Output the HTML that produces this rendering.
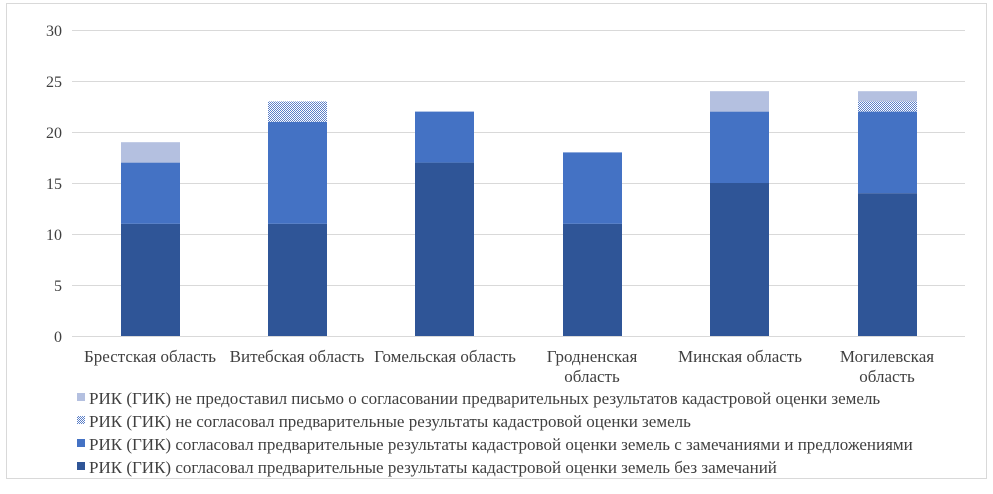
<!DOCTYPE html>
<html><head><meta charset="utf-8"><style>
body{margin:0;background:#fff;}
svg text{font-family:"Liberation Serif",serif;fill:#404040;}
</style></head><body>
<svg width="993" height="489" xmlns="http://www.w3.org/2000/svg">
<defs>
<pattern id="h" width="2" height="2" patternUnits="userSpaceOnUse">
<rect width="2" height="2" fill="#fff"/>
<rect x="0" y="0" width="1" height="1" fill="#5b7fc8"/>
<rect x="1" y="1" width="1" height="1" fill="#5b7fc8"/>
</pattern>
</defs>
<rect x="6.5" y="3.5" width="980" height="475" fill="#fff" stroke="#d9d9d9"/>
<g stroke="#d9d9d9" stroke-width="1">
<line x1="72" x2="965" y1="30.5" y2="30.5"/>
<line x1="72" x2="965" y1="81.5" y2="81.5"/>
<line x1="72" x2="965" y1="132.5" y2="132.5"/>
<line x1="72" x2="965" y1="183.5" y2="183.5"/>
<line x1="72" x2="965" y1="234.5" y2="234.5"/>
<line x1="72" x2="965" y1="285.5" y2="285.5"/>
<line x1="72" x2="965" y1="336.5" y2="336.5"/>
</g>
<g font-size="16" text-anchor="end">
<text x="62" y="36">30</text><text x="62" y="87">25</text><text x="62" y="138">20</text>
<text x="62" y="189">15</text><text x="62" y="240">10</text><text x="62" y="291">5</text><text x="62" y="342">0</text>
</g>
<g>
<rect x="121" y="223.8" width="59" height="112.2" fill="#2f5597"/>
<rect x="121" y="162.6" width="59" height="61.2" fill="#4472c4"/>
<rect x="121" y="142.2" width="59" height="20.4" fill="#b4c0e0"/>

<rect x="268" y="223.8" width="59" height="112.2" fill="#2f5597"/>
<rect x="268" y="121.8" width="59" height="102" fill="#4472c4"/>
<rect x="268" y="101.4" width="59" height="20.4" fill="url(#h)"/>

<rect x="415" y="162.6" width="59" height="173.4" fill="#2f5597"/>
<rect x="415" y="111.6" width="59" height="51" fill="#4472c4"/>

<rect x="563" y="223.8" width="59" height="112.2" fill="#2f5597"/>
<rect x="563" y="152.4" width="59" height="71.4" fill="#4472c4"/>

<rect x="710" y="183" width="59" height="153" fill="#2f5597"/>
<rect x="710" y="111.6" width="59" height="71.4" fill="#4472c4"/>
<rect x="710" y="91.2" width="59" height="20.4" fill="#b4c0e0"/>

<rect x="858" y="193.2" width="59" height="142.8" fill="#2f5597"/>
<rect x="858" y="111.6" width="59" height="81.6" fill="#4472c4"/>
<rect x="858" y="101.4" width="59" height="10.2" fill="url(#h)"/>
<rect x="858" y="91.2" width="59" height="10.2" fill="#b4c0e0"/>
</g>
<g font-size="17" text-anchor="middle">
<text x="150" y="362">Брестская область</text>
<text x="297" y="362">Витебская область</text>
<text x="445" y="362">Гомельская область</text>
<text x="592" y="362">Гродненская</text><text x="592" y="382">область</text>
<text x="740" y="362">Минская область</text>
<text x="887" y="362">Могилевская</text><text x="887" y="382">область</text>
</g>
<g font-size="17">
<rect x="77" y="393" width="8" height="8" fill="#b4c0e0"/>
<text x="89" y="404">РИК (ГИК) не предоставил письмо о согласовании предварительных результатов кадастровой оценки земель</text>
<rect x="77" y="416" width="8" height="8" fill="url(#h)"/>
<text x="89" y="427">РИК (ГИК) не согласовал предварительные результаты кадастровой оценки земель</text>
<rect x="77" y="439" width="8" height="8" fill="#4472c4"/>
<text x="89" y="450">РИК (ГИК) согласовал предварительные результаты кадастровой оценки земель с замечаниями и предложениями</text>
<rect x="77" y="462" width="8" height="8" fill="#2f5597"/>
<text x="89" y="473">РИК (ГИК) согласовал предварительные результаты кадастровой оценки земель без замечаний</text>
</g>
</svg>
</body></html>
